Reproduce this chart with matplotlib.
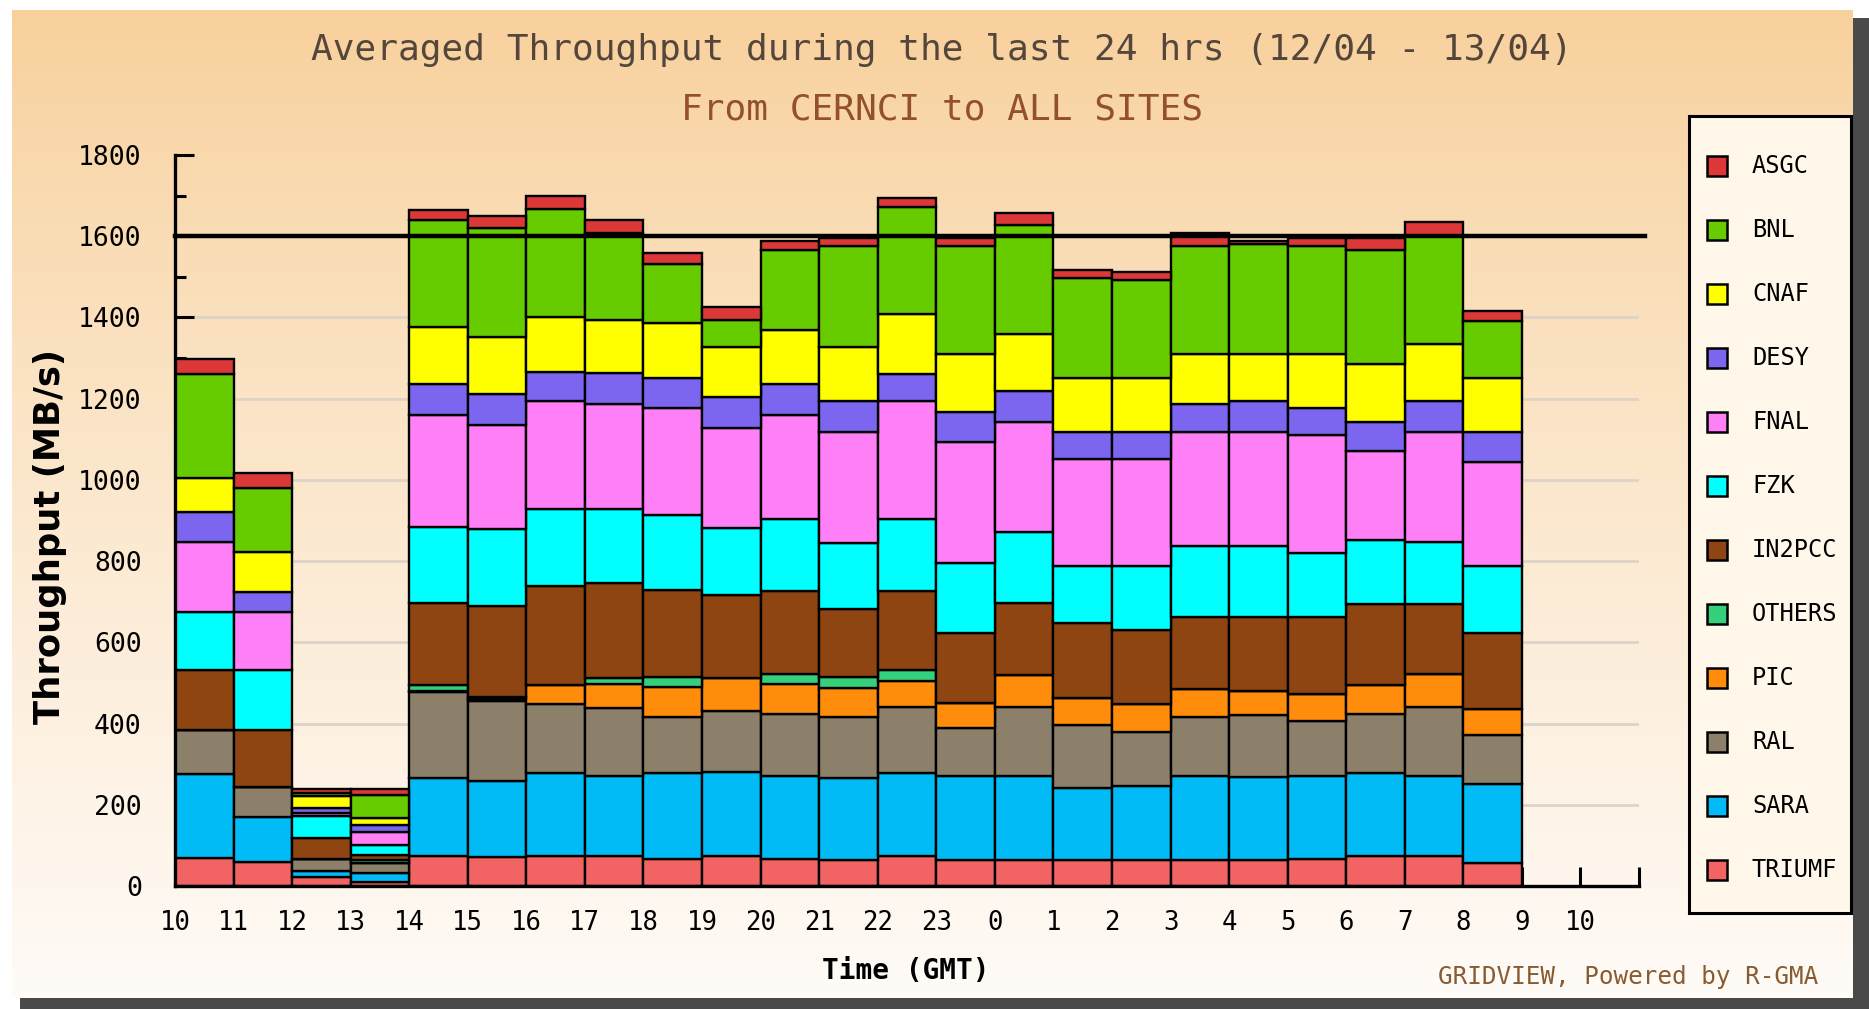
import numpy as np
import matplotlib.pyplot as plt

hours = [10, 11, 12, 13, 14, 15, 16, 17, 18, 19, 20, 21, 22, 23, 0, 1, 2, 3, 4, 5, 6, 7, 8]
tick_labels = [str(h) for h in hours] + ["9", "10"]

# stacked from bottom to top
sites = ["TRIUMF", "SARA", "RAL", "PIC", "OTHERS", "IN2PCC", "FZK", "FNAL", "DESY", "CNAF", "BNL", "ASGC"]
triumf = [70, 60, 23, 11, 74, 72, 74, 74, 66, 74, 66, 65, 74, 65, 63, 65, 65, 65, 65, 66, 74, 74, 57]
sara = [207, 110, 15, 20, 192, 186, 204, 197, 212, 207, 205, 201, 204, 206, 208, 176, 181, 206, 203, 205, 204, 197, 193]
ral = [106, 74, 28, 26, 212, 198, 171, 168, 138, 151, 153, 150, 163, 118, 170, 156, 134, 144, 154, 136, 146, 170, 122]
pic = [0, 0, 0, 0, 3, 5, 46, 59, 73, 80, 74, 71, 63, 61, 78, 67, 67, 70, 57, 65, 72, 82, 63]
others = [0, 0, 0, 6, 15, 5, 0, 14, 26, 0, 23, 28, 29, 0, 0, 0, 0, 0, 0, 0, 0, 0, 0]
in2pcc = [149, 139, 51, 13, 200, 224, 244, 235, 215, 204, 206, 167, 194, 174, 177, 183, 183, 177, 183, 190, 199, 172, 189]
fzk = [142, 149, 56, 24, 189, 190, 189, 181, 183, 166, 176, 163, 176, 172, 175, 140, 157, 174, 174, 157, 158, 152, 163]
fnal = [173, 142, 6, 34, 275, 254, 266, 258, 263, 246, 256, 274, 291, 298, 271, 265, 265, 281, 283, 292, 218, 272, 258]
desy = [75, 49, 12, 15, 75, 77, 72, 76, 76, 75, 76, 76, 66, 74, 76, 65, 65, 69, 76, 65, 72, 76, 74]
cnaf = [82, 100, 31, 18, 142, 141, 134, 132, 134, 123, 134, 131, 149, 141, 142, 135, 135, 123, 114, 133, 143, 139, 133]
bnl = [256, 156, 8, 57, 263, 269, 267, 215, 145, 68, 197, 249, 263, 266, 267, 245, 239, 268, 271, 266, 280, 267, 140]
asgc = [37, 37, 8, 14, 24, 28, 32, 31, 27, 32, 23, 21, 23, 21, 30, 21, 21, 32, 8, 21, 30, 34, 23]

series = [triumf, sara, ral, pic, others, in2pcc, fzk, fnal, desy, cnaf, bnl, asgc]
colors = ["#F26464", "#00BBF5", "#8C806A", "#FF8C0A", "#35D07C", "#8E4512",
          "#00FFFF", "#FF80F6", "#7C66F0", "#FFFF00", "#66CC00", "#DC3838"]

W, H = 1869, 1009
fig = plt.figure(figsize=(W / 100, H / 100), dpi=100)
fig.patch.set_facecolor("white")

# background panel with gradient and shadow (pixel coords, y down)
bg = fig.add_axes([0, 0, 1, 1], zorder=-10)
bg.set_xlim(0, W)
bg.set_ylim(H, 0)
bg.axis("off")
top = np.array([248, 208, 155]) / 255
bot = np.array([255, 251, 247]) / 255
t = np.linspace(0, 1, 300) ** 0.85
grad = top[None, :] * (1 - t[:, None]) + bot[None, :] * t[:, None]
bg.imshow(grad[:, None, :], extent=(12, 1853, 998, 10), aspect="auto")
bg.add_patch(plt.Rectangle((1853, 18), 16, H - 18, color="#4a4a4a", lw=0))
bg.add_patch(plt.Rectangle((20, 998), W - 20, 11, color="#4a4a4a", lw=0))

ax = fig.add_axes([175 / W, 123 / H, (1639 - 175) / W, (886 - 155) / H])
ax.set_facecolor("none")

x = np.arange(len(hours))
bottom = np.zeros(len(hours))
for name, vals, c in zip(sites, series, colors):
    ax.bar(x, vals, width=1, bottom=bottom, align="edge", color=c,
           edgecolor="black", linewidth=1.7, label=name, zorder=3)
    bottom += np.array(vals)

ax.set_xlim(0, 25)
ax.set_ylim(0, 1800)
ax.axhline(1600, color="black", lw=3.2, xmax=1.004, clip_on=False, zorder=4)
for yv in range(200, 1800, 200):
    ax.axhline(yv, color="#ddd3c8", lw=2, zorder=1)

for s in ["top", "right"]:
    ax.spines[s].set_visible(False)
for s in ["left", "bottom"]:
    ax.spines[s].set_linewidth(2.4)
    ax.spines[s].set_zorder(5)

ax.set_xticks(np.arange(0, 26))
ax.set_xticklabels(tick_labels + [""], family="DejaVu Sans Mono", fontsize=18.5)
ax.set_yticks(np.arange(0, 1801, 200))
ax.set_yticks(np.arange(100, 1800, 200), minor=True)
ax.set_yticklabels([str(v) for v in range(0, 1801, 200)], family="DejaVu Sans Mono", fontsize=19)
ax.tick_params(axis="x", direction="in", length=14, width=2.2, pad=17, colors="black")
ax.tick_params(axis="y", which="major", direction="in", length=14, width=2.2, pad=24)
ax.tick_params(axis="y", which="minor", direction="in", length=8, width=2.2)

fig.text(50 / W, 1 - 537 / H, "Throughput (MB/s)", rotation=90, ha="center", va="center",
         fontsize=25.5, fontweight="bold", family="DejaVu Sans")
fig.text(906 / W, 1 - 971 / H, "Time (GMT)", ha="center", va="center",
         fontsize=20, fontweight="bold", family="DejaVu Sans Mono")
fig.text(1818 / W, 1 - 977 / H, "GRIDVIEW, Powered by R-GMA", ha="right", va="center",
         fontsize=17.5, family="DejaVu Sans Mono", color="#8a5a30")
fig.text(942 / W, 1 - 50 / H, "Averaged Throughput during the last 24 hrs (12/04 - 13/04)",
         ha="center", va="center", fontsize=26, family="DejaVu Sans Mono", color="#54463a")
fig.text(942 / W, 1 - 110 / H, "From CERNCI to ALL SITES",
         ha="center", va="center", fontsize=26, family="DejaVu Sans Mono", color="#94502a")

# legend box, drawn in pixel coords
bg.add_patch(plt.Rectangle((1689, 116), 162, 797, facecolor="#fff8ea",
                           edgecolor="black", lw=2.2, zorder=2))
for i, (name, c) in enumerate(zip(sites[::-1], colors[::-1])):
    yc = 166 + 64 * i
    bg.add_patch(plt.Rectangle((1707, yc - 10), 20, 20, facecolor=c,
                               edgecolor="black", lw=1.8, zorder=3))
    bg.text(1752, yc, name, va="center", ha="left", fontsize=17,
            family="DejaVu Sans Mono", zorder=3)

fig.savefig("out.png", dpi=100)
